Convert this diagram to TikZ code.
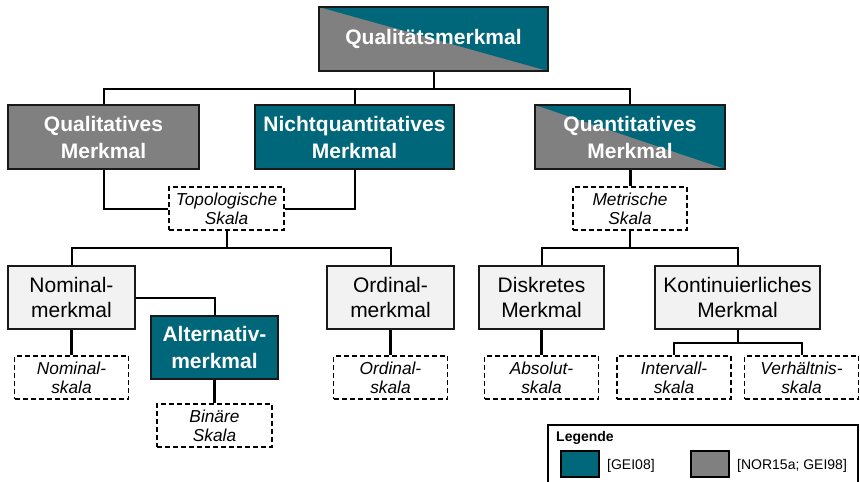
\documentclass[tikz,border=0pt]{standalone}
\usepackage{fontspec}
\setmainfont{Liberation Sans}
\definecolor{petrol}{RGB}{0,102,122}
\definecolor{midgray}{RGB}{128,128,128}
\definecolor{lightfill}{RGB}{242,242,242}
\begin{document}
\begin{tikzpicture}[x=1pt,y=-1pt,
  box/.style={draw=black!90,line width=2pt,rectangle,inner sep=0pt,align=center,minimum height=63pt},
  petrolbox/.style={box,fill=petrol,text=white,font=\fontsize{21}{27}\selectfont\bfseries},
  graybox/.style={box,fill=midgray,text=white,font=\fontsize{21}{27}\selectfont\bfseries},
  splitbox/.style={box,fill=midgray,text=white,font=\fontsize{21}{27}\selectfont\bfseries,
    path picture={\fill[petrol] (path picture bounding box.north west) -- (path picture bounding box.north east) -- (path picture bounding box.south east) -- cycle;}},
  plainbox/.style={box,fill=lightfill,text=black,font=\fontsize{21}{25.5}\selectfont},
  scalebox/.style={draw=black,line width=1.5pt,dash pattern=on 5pt off 3pt,rectangle,inner sep=0pt,align=center,
    minimum height=43pt,minimum width=114pt,fill=white,font=\fontsize{17.3}{19}\selectfont\itshape},
  link/.style={draw=black,line width=2pt},
  stem/.style={draw=black,line width=3pt},
  swatch/.style={draw=black,line width=1.5pt,minimum width=38pt,minimum height=26pt,inner sep=0pt},
  legendtext/.style={font=\fontsize{14}{16}\selectfont,anchor=base west,inner sep=0pt}
]
\useasboundingbox (0,0) rectangle (860,482);

% top level
\node[splitbox,minimum width=229pt,minimum height=64pt] (top) at (433.5,39) {Qualitätsmerkmal};

% second level
\node[graybox,minimum width=191pt,minimum height=64pt] (qual) at (103.5,137) {Qualitatives\\Merkmal};
\node[petrolbox,minimum width=199pt,minimum height=64pt] (nicht) at (354.5,137) {Nichtquantitatives\\Merkmal};
\node[splitbox,minimum width=190pt,minimum height=64pt] (quant) at (630,137) {Quantitatives\\Merkmal};

% scale types
\node[scalebox,minimum width=115pt] (topo) at (226.5,208.5) {Topologische\\Skala};
\node[scalebox] (metr) at (630,208.5) {Metrische\\Skala};

% third level
\node[plainbox,minimum width=127pt] (nominal) at (71.5,297.5) {Nominal-\\merkmal};
\node[petrolbox,minimum width=127pt] (alt) at (214.5,347.5) {Alternativ-\\merkmal};
\node[plainbox,minimum width=127pt] (ordinal) at (390.5,297.5) {Ordinal-\\merkmal};
\node[plainbox,minimum width=125pt] (diskret) at (541.5,297.5) {Diskretes\\Merkmal};
\node[plainbox,minimum width=165pt] (kont) at (737.5,297.5) {Kontinuierliches\\Merkmal};

% scales of the third level
\node[scalebox] (nomsk) at (71.5,377.5) {Nominal-\\skala};
\node[scalebox,minimum width=115pt] (binsk) at (214.5,425.5) {Binäre\\Skala};
\node[scalebox] (ordsk) at (390.5,377.5) {Ordinal-\\skala};
\node[scalebox] (abssk) at (541.5,377.5) {Absolut-\\skala};
\node[scalebox] (intsk) at (674,377.5) {Intervall-\\skala};
\node[scalebox] (versk) at (801.5,377.5) {Verhältnis-\\skala};

% connectors
\coordinate (b1) at (433.5,89);
\coordinate (b2) at (226.5,248);
\coordinate (b3) at (630,248);
\coordinate (b4) at (737.5,343);

\draw[link] (top.south) -- (b1);
\draw[link] (qual.north) |- (b1) -| (quant.north);
\draw[link] (nicht.north) -- (nicht.north |- b1);

\draw[link] (qual.south) |- (topo.west);
\draw[link] (nicht.south) |- (topo.east);
\draw[link] (topo.south) -- (b2);
\draw[link] (nominal.north) |- (b2) -| (ordinal.north);
\draw[link] (nominal.east) -| (alt.north);

\draw[stem] (quant.south) -- (metr.north);
\draw[link] (metr.south) -- (b3);
\draw[link] (diskret.north) |- (b3) -| (kont.north);

\draw[stem] (nominal.south) -- (nomsk.north);
\draw[stem] (alt.south) -- (binsk.north);
\draw[stem] (ordinal.south) -- (ordsk.north);
\draw[stem] (diskret.south) -- (abssk.north);
\draw[link] (kont.south) -- (b4);
\draw[link] (intsk.north) |- (b4) -| (versk.north);

% legend
\draw[line width=1.5pt] (548,483) -- (548,425) -- (858,425) -- (858,483);
\node[legendtext,font=\fontsize{14}{16}\selectfont\bfseries] (legtitle) at (556,441) {Legende};
\node[swatch,fill=petrol] (sw1) at (580,464) {};
\node[legendtext] (lt1) at (607,469) {[GEI08]};
\node[swatch,fill=midgray] (sw2) at (710,464) {};
\node[legendtext] (lt2) at (737,469) {[NOR15a; GEI98]};
\end{tikzpicture}
\end{document}
